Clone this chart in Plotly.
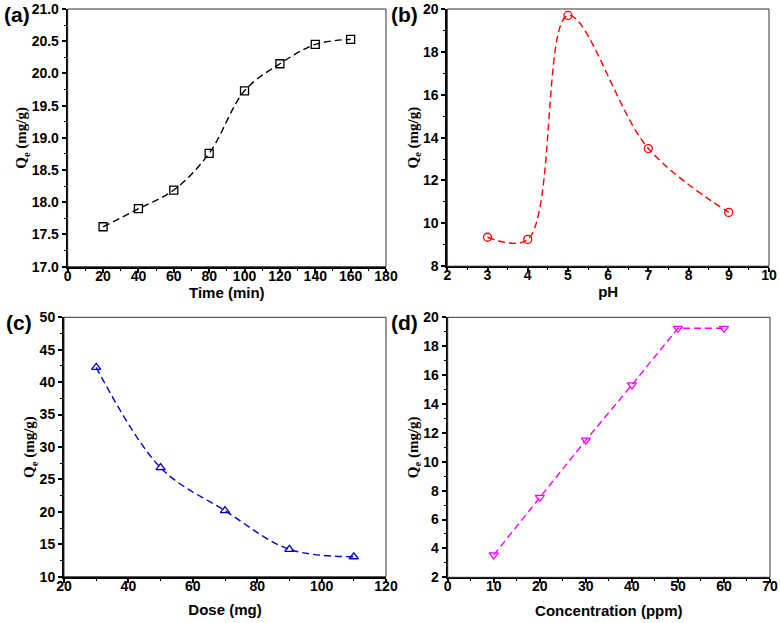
import plotly.graph_objects as go

# ---- data ----
time_min = [20, 40, 60, 80, 100, 120, 140, 160]
qe_time = [17.62, 17.90, 18.19, 18.76, 19.73, 20.15, 20.45, 20.53]

ph = [3, 4, 5, 7, 9]
qe_ph = [9.35, 9.25, 19.70, 13.49, 10.51]

dose_mg = [30, 50, 70, 90, 110]
qe_dose = [42.29, 26.81, 20.18, 14.22, 13.08]

conc_ppm = [10, 20, 30, 40, 50, 60]
qe_conc = [3.55, 7.54, 11.49, 15.32, 19.24, 19.24]

W, H = 780, 623

def px_dom_x(a, b):
    return [a / W, b / W]

def px_dom_y(top, bottom):
    return [1 - bottom / H, 1 - top / H]

fig = go.Figure()

panels = [
    dict(x=time_min, y=qe_time, color="#000000", symbol="square-open", shape="spline",
         xd=px_dom_x(67.7, 386), yd=px_dom_y(9, 266.7),
         xr=[0, 180], xdt=20, yr=[17.0, 21.0], ydt=0.5, yfmt=".1f",
         xtitle="Time (min)", tso=0, label="(a)", lx=17, ly=14),
    dict(x=ph, y=qe_ph, color="#FF0000", symbol="circle-open", shape="spline",
         xd=px_dom_x(447.3, 769), yd=px_dom_y(9, 266.2),
         xr=[2, 10], xdt=1, yr=[8, 20], ydt=2, yfmt="d",
         xtitle="pH", tso=3, label="(b)", lx=404, ly=14),
    dict(x=dose_mg, y=qe_dose, color="#0000CC", symbol="triangle-up-open", shape="spline",
         xd=px_dom_x(64, 386), yd=px_dom_y(317.3, 576.7),
         xr=[20, 120], xdt=20, yr=[10, 50], ydt=5, yfmt="d",
         xtitle="Dose (mg)", tso=12, label="(c)", lx=19, ly=322),
    dict(x=conc_ppm, y=qe_conc, color="#FF00FF", symbol="triangle-down-open", shape="linear",
         xd=px_dom_x(447.7, 770), yd=px_dom_y(317.3, 577.3),
         xr=[0, 70], xdt=10, yr=[2, 20], ydt=2, yfmt="d",
         xtitle="Concentration (ppm)", tso=12, label="(d)", lx=404, ly=322),
]

tickfont = dict(family="Liberation Sans, Arial", size=14, color="black", weight="bold")
titlefont_x = dict(family="Liberation Sans, Arial", size=15, color="black", weight="bold")
titlefont_y = dict(family="Liberation Serif, Times New Roman", size=15, color="black", weight="bold")

annotations = []
shapes = []
for i, p in enumerate(panels, start=1):
    xa = "x" if i == 1 else f"x{i}"
    ya = "y" if i == 1 else f"y{i}"
    fig.add_trace(go.Scatter(
        x=p["x"], y=p["y"], mode="lines+markers", xaxis=xa, yaxis=ya,
        line=dict(color=p["color"], width=1.4, dash="7px,4px", shape=p["shape"], smoothing=1.0),
        marker=dict(symbol=p["symbol"], size=8, color=p["color"], line=dict(width=1.3, color=p["color"])),
        showlegend=False, cliponaxis=False, hoverinfo="skip",
    ))
    axis_common = dict(showgrid=False, zeroline=False, showline=True, linecolor="black", linewidth=2,
                       ticks="outside", ticklen=4, tickwidth=1.5, tickcolor="black", tickfont=tickfont,
                       automargin=False)
    xkey = "xaxis" if i == 1 else f"xaxis{i}"
    ykey = "yaxis" if i == 1 else f"yaxis{i}"
    fig.update_layout({
        xkey: dict(axis_common, domain=p["xd"], range=p["xr"], dtick=p["xdt"], tick0=0,
                   anchor=ya, autorange=False, ticklabelstandoff=-9,
                   minor=dict(ticks="outside", ticklen=2, tickwidth=1.2, tickcolor="black", dtick=p["xdt"] / 2),
                   title=dict(text=p["xtitle"], font=titlefont_x, standoff=p["tso"])),
        ykey: dict(axis_common, domain=p["yd"], range=p["yr"], dtick=p["ydt"], tick0=0,
                   anchor=xa, autorange=False, tickformat=p["yfmt"],
                   minor=dict(ticks="outside", ticklen=2, tickwidth=1.2, tickcolor="black", dtick=p["ydt"] / 2),
                   title=dict(text="Q<sub>e</sub> (mg/g)", font=titlefont_y, standoff=0)),
    })
    shapes.append(dict(type="rect", xref=f"{xa} domain", yref=f"{ya} domain", x0=0, x1=1, y0=0, y1=1,
                       line=dict(color="#333333", width=1), layer="above"))
    annotations.append(dict(text=p["label"], x=p["lx"] / W, y=1 - p["ly"] / H, xref="paper", yref="paper",
                            showarrow=False, xanchor="center", yanchor="middle",
                            font=dict(family="Liberation Sans, Arial", size=21, color="black", weight="bold")))

fig.update_layout(width=W, height=H, margin=dict(l=0, r=0, t=0, b=0),
                  paper_bgcolor="white", plot_bgcolor="white",
                  annotations=annotations, shapes=shapes)

fig.write_html("out.html", config={"displayModeBar": False},
               post_script="document.body.style.margin='0';")
